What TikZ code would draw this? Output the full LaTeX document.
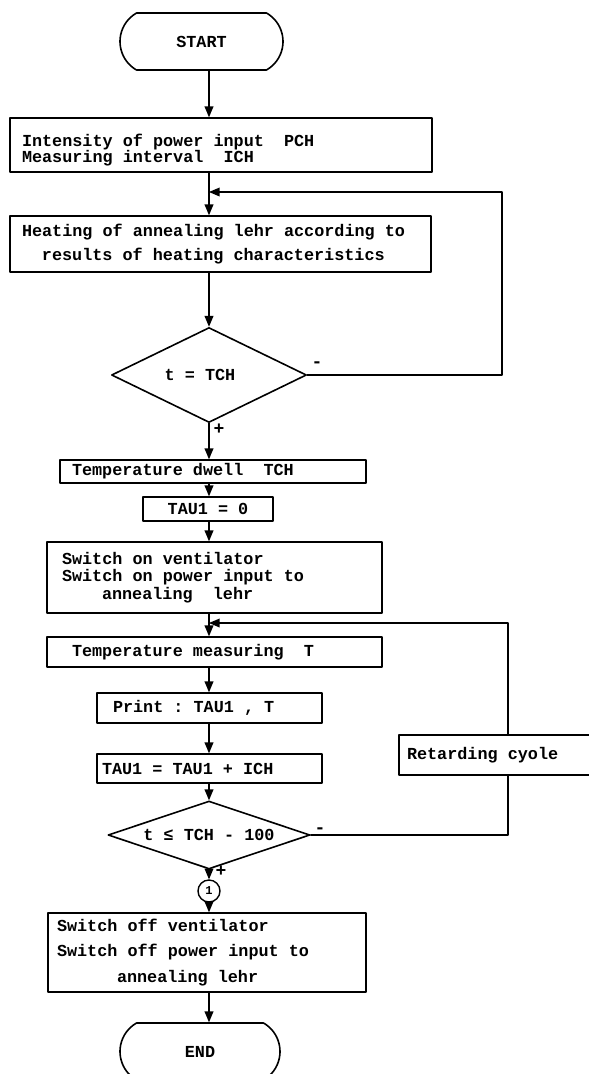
\documentclass[tikz,border=0pt]{standalone}
\usepackage{fontspec}
\setmonofont{Liberation Mono}
\usetikzlibrary{arrows, shapes.geometric, shapes.misc}

\newcommand{\flowfont}{\ttfamily\bfseries\frenchspacing\fontsize{16.8}{20}\selectfont
  \spaceskip=10.08pt\relax\xspaceskip=10.08pt\relax}

\begin{document}
\begin{tikzpicture}[line cap=round,line join=round,>=triangle 45,x=1.0pt,y=-1.0pt,
  every node/.style={font=\flowfont},
  box/.style={draw, line width=1.6pt, rectangle, inner ysep=0pt, align=flush left},
  term/.style={draw, line width=1.6pt, rounded rectangle, rounded rectangle arc length=120,
    minimum width=163pt, minimum height=57pt, inner sep=0pt},
  decide/.style={draw, line width=1.6pt, diamond, inner sep=0pt},
  conn/.style={draw, line width=1.4pt, circle, minimum size=22pt, inner sep=0pt,
    font=\ttfamily\bfseries\fontsize{12}{12}\selectfont},
  sign/.style={inner sep=0pt, font=\ttfamily\bfseries\fontsize{18}{18}\selectfont},
  flow/.style={line width=1.5pt}]
\useasboundingbox (0,0) rectangle (589,1074);
\clip (0,0) rectangle (589,1074);

\coordinate (M) at (209,0);
\coordinate (L1) at (502,192);
\coordinate (L2) at (508,623);

\node[term] (start) at (201.5,41.5) {START};

\node[box, minimum width=422pt, minimum height=54pt, inner xsep=12pt, text width=398pt] (inten) at (221,145)
  {\rule{0pt}{22pt}Intensity of power input~~PCH\\[-4pt]Measuring interval~~ICH};
\node[box, minimum width=421pt, minimum height=56pt, inner xsep=12pt, text width=397pt] (heat) at (220.5,244)
  {Heating of annealing lehr according to\\[4pt]\hspace*{20pt}results of heating characteristics};

\node[decide, aspect=2.05, minimum width=195pt, minimum height=95pt] (test1) at (209,375) {t = TCH\hspace*{18pt}};

\node[box, minimum width=306pt, minimum height=23pt, inner xsep=12pt, text width=282pt] (dwell) at (213,471.5)
  {Temperature dwell~~TCH};
\node[box, minimum width=130pt, minimum height=24pt, inner xsep=5pt, text width=120pt, align=flush center] (tauz) at (208,509)
  {TAU1 = 0};
\node[box, minimum width=335pt, minimum height=71pt, inner xsep=15pt, text width=305pt] (swon) at (214.5,577.5)
  {Switch on ventilator\\[-2.5pt]Switch on power input to\\[-2.5pt]\hspace*{40pt}annealing~~lehr};

\node[box, minimum width=335pt, minimum height=30pt, inner xsep=25pt, text width=285pt] (meas) at (214.5,652)
  {Temperature measuring~~T};
\node[box, minimum width=225pt, minimum height=30pt, inner xsep=16pt, text width=193pt] (print) at (209.5,708)
  {Print : TAU1 , T};
\node[box, minimum width=225pt, minimum height=29pt, inner xsep=5pt, text width=215pt] (tauinc) at (209.5,768.5)
  {TAU1 = TAU1 + ICH};
\node[box, minimum width=201pt, minimum height=40pt, inner xsep=8pt, text width=185pt] (retard) at (499.5,755)
  {Retarding cyole};

\node[decide, aspect=3, minimum width=202pt, minimum height=68pt] (test2) at (209,835) {t ≤ TCH - 100};
\node[conn] (con1) at (209,891) {1};

\node[box, minimum width=318pt, minimum height=79pt, inner xsep=9pt, text width=300pt] (swoff) at (207,952.5)
  {Switch off ventilator\\[5.5pt]Switch off power input to\\[5.5pt]\hspace*{60pt}annealing lehr};

\node[term, minimum width=160pt] (stop) at (200,1051.5) {END};

% main line
\draw[flow,->] (start.south -| M) -- (inten.north -| M);
\draw[flow,->] (inten.south -| M) -- (heat.north -| M);
\draw[flow,->] (heat.south -| M) -- (test1.north);
\draw[flow,->] (test1.south) -- (dwell.north -| M);
\draw[flow,->] (dwell.south -| M) -- (tauz.north -| M);
\draw[flow,->] (tauz.south -| M) -- (swon.north -| M);
\draw[flow,->] (swon.south -| M) -- (meas.north -| M);
\draw[flow,->] (meas.south -| M) -- (print.north -| M);
\draw[flow,->] (print.south -| M) -- (tauinc.north -| M);
\draw[flow,->] (tauinc.south -| M) -- (test2.north);
\draw[flow,->] (test2.south) -- (con1.north);
\draw[flow,->] (con1.south) -- (swoff.north -| M);
\draw[flow,->] (swoff.south -| M) -- (stop.north -| M);

% loops
\draw[flow,->] (test1.east) -| (L1) -- (L1 -| M);
\draw[flow] (test2.east) -| (retard.south -| L2);
\draw[flow,->] (retard.north -| L2) -- (L2) -- (L2 -| M);

\node[sign] (neg1) at (317,365) {-};
\node[sign] (pos1) at (219,429) {+};
\node[sign] (neg2) at (320,831) {-};
\node[sign] (pos2) at (221,871) {+};

\end{tikzpicture}
\end{document}
